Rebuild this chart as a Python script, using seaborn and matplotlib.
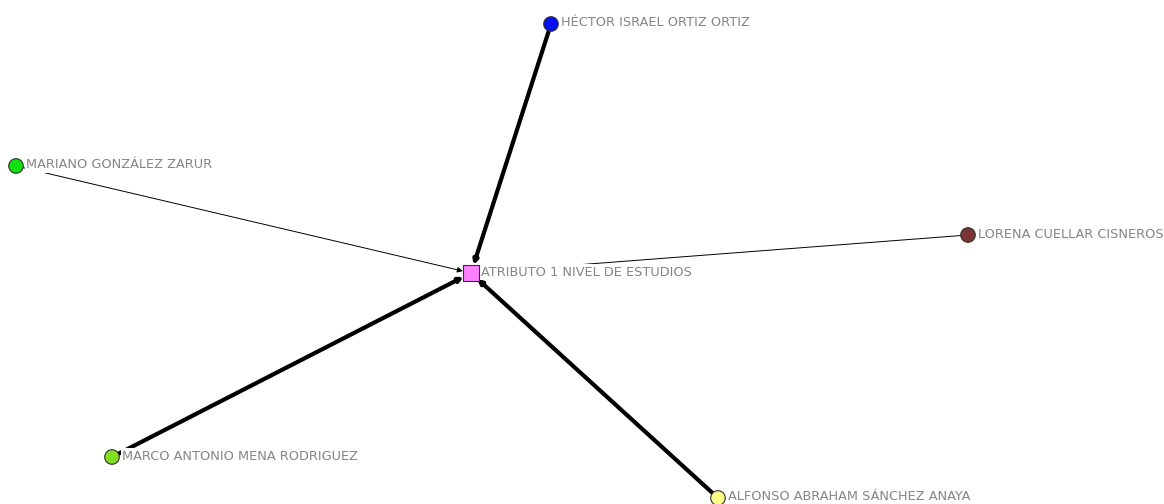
import matplotlib
matplotlib.use("Agg")
import matplotlib.pyplot as plt
import seaborn as sns
import pandas as pd

# ---- data ----
nodes = ["ATRIBUTO 1 NIVEL DE ESTUDIOS", "HÉCTOR ISRAEL ORTIZ ORTIZ",
         "MARIANO GONZÁLEZ ZARUR", "LORENA CUELLAR CISNEROS",
         "MARCO ANTONIO MENA RODRIGUEZ", "ALFONSO ABRAHAM SÁNCHEZ ANAYA"]
node_x = [471, 551, 16, 968, 112, 718]
node_y = [273, 24, 166, 235, 457, 498]
node_kind = ["attribute", "actor", "actor", "actor", "actor", "actor"]
node_colors = ["#ff80ff", "#0010f0", "#10e010", "#7a3434", "#7ee020", "#ffff88"]

edge_source = ["HÉCTOR ISRAEL ORTIZ ORTIZ", "MARIANO GONZÁLEZ ZARUR",
               "LORENA CUELLAR CISNEROS", "MARCO ANTONIO MENA RODRIGUEZ",
               "ALFONSO ABRAHAM SÁNCHEZ ANAYA"]
edge_target = ["ATRIBUTO 1 NIVEL DE ESTUDIOS"] * 5
edge_weight = [3, 1, 1, 3, 3]

df = pd.DataFrame({"node": nodes, "x": node_x, "y": node_y, "kind": node_kind})
pos = {n: (x, y) for n, x, y in zip(nodes, node_x, node_y)}

sns.set_style("white")
plt.rcParams['font.family'] = ['DejaVu Sans']

fig = plt.figure(figsize=(11.64, 5.04), dpi=100)
ax = fig.add_axes([0, 0, 1, 1])

# edges
for s, t, w in zip(edge_source, edge_target, edge_weight):
    lw = 3.0 if w > 1 else 0.7
    ax.annotate("", xy=pos[t], xytext=pos[s],
                arrowprops=dict(arrowstyle="-|>", color="black", lw=lw,
                                mutation_scale=6 if w > 1 else 8,
                                shrinkA=4, shrinkB=6),
                zorder=1)

# nodes
palette = dict(zip(nodes, node_colors))
sns.scatterplot(data=df[df.kind == "actor"], x="x", y="y", hue="node",
                palette=palette, s=110, marker="o", edgecolor="#303030",
                linewidth=0.8, legend=False, ax=ax, zorder=4)
sns.scatterplot(data=df[df.kind == "attribute"], x="x", y="y", hue="node",
                palette=palette, s=130, marker="s", edgecolor="#303030",
                linewidth=0.8, legend=False, ax=ax, zorder=4)

# labels
for n, x, y in zip(nodes, node_x, node_y):
    ax.text(x + 10, y - 1, n, fontsize=9.3, color="#858585", ha="left",
            va="center", zorder=3,
            bbox=dict(facecolor="white", edgecolor="none", pad=1.0))

ax.set_xlim(0, 1164)
ax.set_ylim(504, 0)
ax.axis("off")
fig.savefig("out.png", dpi=100, facecolor="white")
